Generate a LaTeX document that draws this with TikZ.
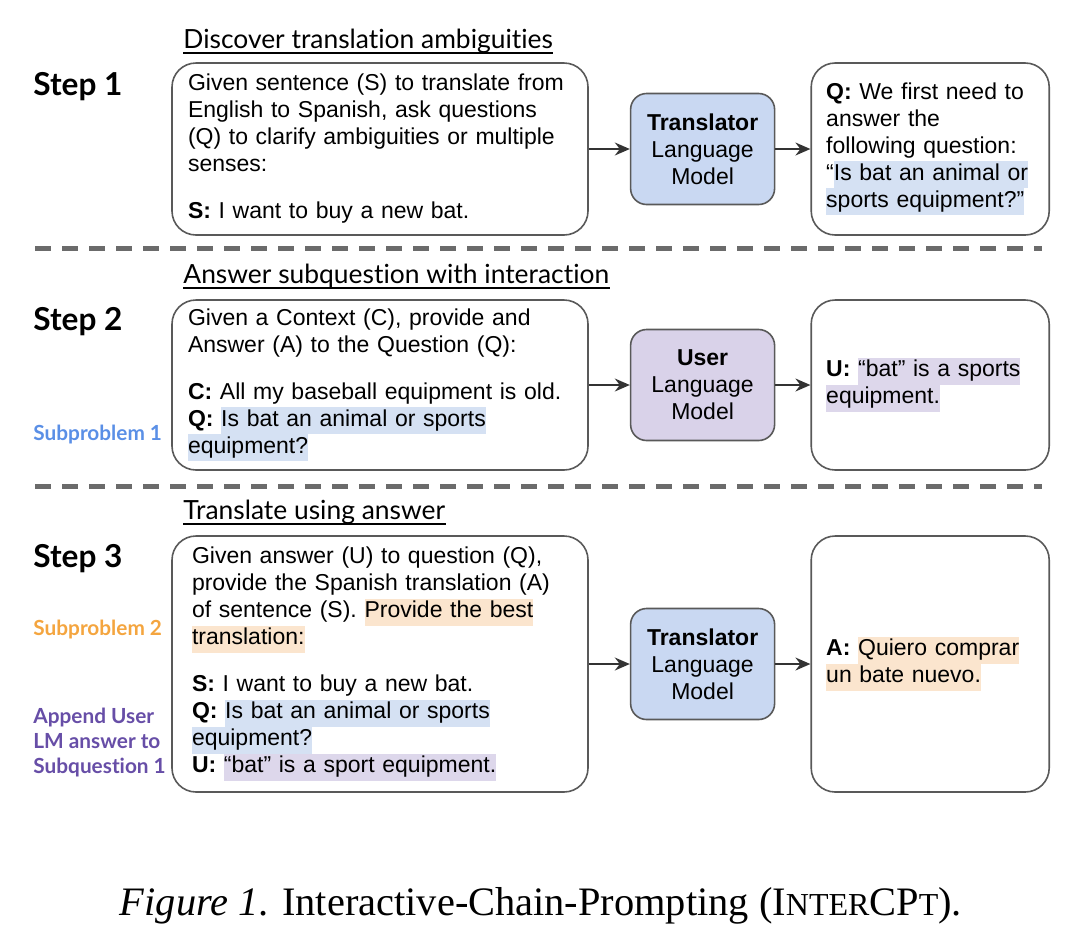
\documentclass[tikz,border=0pt]{standalone}
\usepackage{fontspec}
\setmainfont{Liberation Sans}
\newfontfamily\headfont[Ligatures={NoCommon}]{Lato}
\newfontfamily\capfont{Liberation Serif}
\usetikzlibrary{positioning}
\usetikzlibrary{arrows.meta}

\definecolor{boxline}{HTML}{595959}
\definecolor{transblue}{HTML}{C9D8F2}
\definecolor{userlav}{HTML}{D9D2E9}
\definecolor{hlblue}{HTML}{D5E1F3}
\definecolor{hllav}{HTML}{DDD7EB}
\definecolor{hlpeach}{HTML}{FBE5CE}
\definecolor{subblue}{HTML}{5A8FE6}
\definecolor{suborange}{HTML}{F4A53F}
\definecolor{subpurple}{HTML}{674EA7}
\definecolor{dashgray}{HTML}{6B6B6B}

\newcommand{\bodyfont}{\fontsize{11.5}{13.5}\selectfont}
\newcommand{\hl}[2]{{\setlength{\fboxsep}{0pt}\colorbox{#1}{\strut #2}}}

\tikzset{node distance=20pt, % Gap between the boxes of one step
      prompt/.style={ % Prompt given to a model
      draw=boxline, line width=0.8pt, rounded corners=12pt,
      text width=192pt, inner xsep=8pt, align=left, font=\bodyfont},
      lm/.style={ % Language model boxes
      draw=boxline, line width=0.8pt, rounded corners=8pt,
      minimum width=72pt, minimum height=55.5pt, align=center, font=\bodyfont},
      answer/.style={ % Output of a model
      draw=boxline, line width=0.8pt, rounded corners=12pt,
      text width=104pt, inner xsep=7.5pt, align=left, font=\bodyfont},
      heading/.style={inner sep=0pt, anchor=base west,
      font=\headfont\fontsize{13.2}{16}\selectfont},
      steplabel/.style={inner sep=0pt, anchor=base west,
      font=\headfont\bfseries\fontsize{15.8}{20}\selectfont},
      sidelabel/.style={inner sep=0pt, anchor=base west, align=left,
      font=\headfont\bfseries\fontsize{10.4}{12.5}\selectfont},
      separator/.style={draw=dashgray, line width=2.5pt, dash pattern=on 8pt off 5.5pt},
      every edge/.style={ % Arrows between the boxes
            draw=black!80,
      -{Stealth[length=7.5pt, width=6.5pt, inset=2.5pt]},
      line width=0.8pt}}

\begin{document}
\begin{tikzpicture}[x=0.5pt, y=-0.5pt]
      \useasboundingbox (0,0) rectangle (1080,949);

      % Step 1
      \node[heading] (h1) at (183,48) {Discover translation ambiguities};
      \draw[line width=0.8pt] ([yshift=-2.5pt]h1.base west) -- ([yshift=-2.5pt]h1.base east);
      \node[steplabel] (st1) at (33,95) {Step 1};
      \node[prompt, minimum height=86pt] (s1) at (380,149)
            {Given sentence (S) to translate from\\
            English to Spanish, ask questions\\
            (Q) to clarify ambiguities or multiple\\
            senses:\\[10pt]
            \textbf{S:} I want to buy a new bat.};
      \node[lm, fill=transblue, right=20.5pt of s1] (lm1) {\textbf{Translator}\\Language\\Model};
      \node[answer, minimum height=86pt, right=17.5pt of lm1] (a1)
            {\textbf{Q:} We first need to\\
            answer the\\
            following question:\\
            ``\hl{hlblue}{Is bat an animal or}\\
            \hl{hlblue}{sports equipment?''}};
      \draw (s1) edge (lm1);
      \draw (lm1) edge (a1);

      \draw[separator] (35,248) -- (1042,248);

      % Step 2
      \node[heading] (h2) at (183,283) {Answer subquestion with interaction};
      \draw[line width=0.8pt] ([yshift=-2.5pt]h2.base west) -- ([yshift=-2.5pt]h2.base east);
      \node[steplabel] (st2) at (33,330) {Step 2};
      \node[sidelabel, text=subblue] (sub1) at (33,440) {Subproblem 1};
      \node[prompt, minimum height=85pt] (s2) at (380,385)
            {Given a Context (C), provide and\\
            Answer (A) to the Question (Q):\\[10pt]
            \textbf{C:} All my baseball equipment is old.\\
            \textbf{Q:} \hl{hlblue}{Is bat an animal or sports}\\
            \hl{hlblue}{equipment?}};
      \node[lm, fill=userlav, right=20.5pt of s2] (lm2) {\textbf{User}\\Language\\Model};
      \node[answer, minimum height=85pt, right=17.5pt of lm2] (a2)
            {\textbf{U:} \hl{hllav}{``bat'' is a sports}\\
            \hl{hllav}{equipment.}};
      \draw (s2) edge (lm2);
      \draw (lm2) edge (a2);

      \draw[separator] (35,486) -- (1042,486);

      % Step 3
      \node[heading] (h3) at (183,519) {Translate using answer};
      \draw[line width=0.8pt] ([yshift=-2.5pt]h3.base west) -- ([yshift=-2.5pt]h3.base east);
      \node[steplabel] (st3) at (33,567) {Step 3};
      \node[sidelabel, text=suborange] (sub2) at (33,635) {Subproblem 2};
      \node[sidelabel, text=subpurple] (app) at (33,773) {Append User\\LM answer to\\Subquestion 1};
      \node[prompt, minimum height=128pt, text width=188pt, inner xsep=10pt] (s3) at (380,664)
            {Given answer (U) to question (Q),\\
            provide the Spanish translation (A)\\
            of sentence (S). \hl{hlpeach}{Provide the best}\\
            \hl{hlpeach}{translation:}\\[10pt]
            \textbf{S:} I want to buy a new bat.\\
            \textbf{Q:} \hl{hlblue}{Is bat an animal or sports}\\
            \hl{hlblue}{equipment?}\\
            \textbf{U:} \hl{hllav}{``bat'' is a sport equipment.}};
      \node[lm, fill=transblue, right=20.5pt of s3] (lm3) {\textbf{Translator}\\Language\\Model};
      \node[answer, minimum height=128pt, right=17.5pt of lm3] (a3)
            {\textbf{A:} \hl{hlpeach}{Quiero comprar}\\
            \hl{hlpeach}{un bate nuevo.}};
      \draw (s3) edge (lm3);
      \draw (lm3) edge (a3);

      % Caption
      \node[anchor=base, font=\capfont\fontsize{20.2}{24}\selectfont] (cap) at (541,915)
            {\textit{Figure 1}. Interactive-Chain-Prompting (I{\fontsize{16}{18}\selectfont NTER}CP{\fontsize{16}{18}\selectfont T}).};
\end{tikzpicture}
\end{document}
